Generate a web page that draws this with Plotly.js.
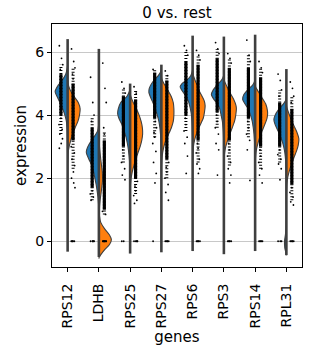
<!DOCTYPE html>
<html><head><meta charset="utf-8">
<script src="https://cdn.plot.ly/plotly-3.0.1.min.js"></script>
<style>html,body{margin:0;padding:0;background:#fff}</style>
</head><body>
<div id="chart" style="width:329px;height:351px"></div>
<script>
// ---- data ----
const genes = ['RPS12','LDHB','RPS25','RPS27','RPS6','RPS3','RPS14','RPL31'];
const yTicks = [0, 2, 4, 6];

// violin half profiles: [expression, relative density] (top to bottom)
const blueShape = [
  [[5.6,0],[5.5,0.03],[5.3,0.15],[5.1,0.45],[4.95,0.75],[4.75,1.0],[4.55,0.8],[4.35,0.55],[4.15,0.35],[4.0,0.22],[3.8,0.1],[3.5,0.04],[3.0,0.015],[2.6,0]],
  [[3.8,0],[3.7,0.02],[3.5,0.1],[3.3,0.4],[3.1,0.75],[2.9,0.98],[2.8,1.0],[2.6,0.8],[2.4,0.55],[2.2,0.42],[2.0,0.32],[1.8,0.22],[1.6,0.14],[1.4,0.07],[1.2,0.03],[1.0,0]],
  [[4.85,0],[4.8,0.02],[4.6,0.25],[4.4,0.75],[4.2,0.95],[4.05,1.0],[3.9,0.9],[3.7,0.66],[3.5,0.48],[3.3,0.33],[3.1,0.22],[2.9,0.14],[2.6,0.06],[2.3,0.02],[2.0,0]],
  [[5.5,0],[5.4,0.03],[5.25,0.25],[5.05,0.7],[4.85,0.97],[4.72,1.0],[4.55,0.85],[4.35,0.63],[4.15,0.45],[4.0,0.33],[3.8,0.2],[3.6,0.12],[3.3,0.05],[3.0,0.02],[2.7,0]],
  [[5.5,0],[5.4,0.02],[5.25,0.15],[5.1,0.5],[5.0,0.85],[4.9,1.0],[4.75,0.8],[4.6,0.53],[4.45,0.35],[4.3,0.24],[4.1,0.13],[3.9,0.07],[3.6,0.03],[3.2,0]],
  [[5.35,0],[5.25,0.02],[5.1,0.2],[4.95,0.55],[4.8,0.85],[4.65,1.0],[4.5,0.8],[4.35,0.5],[4.2,0.33],[4.0,0.22],[3.8,0.12],[3.5,0.05],[3.2,0.02],[2.9,0]],
  [[5.2,0],[5.1,0.02],[4.95,0.2],[4.8,0.6],[4.65,0.9],[4.5,1.0],[4.35,0.8],[4.2,0.55],[4.0,0.37],[3.8,0.23],[3.6,0.15],[3.4,0.09],[3.1,0.04],[2.8,0.02],[2.5,0]],
  [[4.6,0],[4.5,0.02],[4.35,0.25],[4.15,0.67],[4.0,0.9],[3.85,1.0],[3.7,0.9],[3.5,0.67],[3.3,0.45],[3.1,0.28],[2.9,0.16],[2.7,0.09],[2.4,0.04],[2.1,0.02],[1.6,0.01],[0.5,0.01],[0.2,0.08],[0.0,0.15],[-0.2,0.13],[-0.35,0.05],[-0.45,0]]
];
const orangeShape = [
  [[5.1,0],[5.0,0.03],[4.8,0.2],[4.6,0.5],[4.4,0.85],[4.2,1.0],[4.0,0.95],[3.8,0.82],[3.6,0.6],[3.4,0.4],[3.2,0.25],[3.0,0.12],[2.8,0.04],[2.5,0]],
  [[3.4,0],[3.3,0.01],[3.0,0.05],[2.6,0.15],[2.2,0.27],[1.9,0.28],[1.6,0.2],[1.3,0.1],[1.0,0.04],[0.8,0.05],[0.6,0.15],[0.4,0.45],[0.2,0.85],[0.05,1.0],[-0.1,0.85],[-0.25,0.5],[-0.4,0.2],[-0.5,0.03],[-0.55,0]],
  [[4.7,0],[4.6,0.05],[4.4,0.25],[4.2,0.5],[4.0,0.72],[3.8,0.88],[3.6,0.98],[3.4,1.0],[3.2,0.93],[3.0,0.8],[2.8,0.62],[2.6,0.45],[2.4,0.3],[2.2,0.17],[2.0,0.08],[1.8,0.03],[1.5,0]],
  [[5.25,0],[5.15,0.03],[5.0,0.2],[4.8,0.5],[4.6,0.78],[4.4,0.95],[4.2,1.0],[4.0,1.0],[3.8,0.95],[3.6,0.8],[3.4,0.58],[3.2,0.35],[3.0,0.2],[2.8,0.1],[2.6,0.04],[2.3,0]],
  [[5.4,0],[5.3,0.03],[5.1,0.2],[4.9,0.42],[4.75,0.55],[4.6,0.75],[4.45,0.93],[4.3,1.0],[4.1,0.95],[3.9,0.85],[3.7,0.62],[3.5,0.4],[3.3,0.22],[3.1,0.1],[2.9,0.04],[2.6,0]],
  [[5.2,0],[5.1,0.03],[4.9,0.25],[4.7,0.5],[4.5,0.78],[4.3,0.97],[4.2,1.0],[4.0,0.95],[3.8,0.85],[3.6,0.67],[3.4,0.48],[3.2,0.3],[3.0,0.15],[2.8,0.06],[2.6,0.02],[2.3,0]],
  [[5.0,0],[4.9,0.03],[4.75,0.25],[4.55,0.55],[4.35,0.85],[4.15,0.98],[4.05,1.0],[3.9,0.95],[3.7,0.77],[3.5,0.56],[3.3,0.37],[3.1,0.22],[2.9,0.1],[2.7,0.04],[2.4,0]],
  [[4.35,0],[4.25,0.03],[4.05,0.2],[3.85,0.4],[3.65,0.62],[3.45,0.85],[3.25,1.0],[3.05,0.95],[2.85,0.8],[2.65,0.6],[2.45,0.42],[2.25,0.25],[2.05,0.12],[1.85,0.05],[1.6,0.02],[1.3,0]]
];

// extent of each violin (thin tails)
const tailMin = [-0.33, -0.5, -0.39, -0.35, -0.31, -0.41, -0.31, -0.44];
const tailMax = [6.41, 6.1, 5.0, 5.6, 6.52, 6.49, 6.55, 5.46];

// dense parts of the strip (cells)
const blueCoreLo = [4.0, 1.7, 3.0, 3.9, 4.0, 4.1, 3.9, 3.0];
const blueCoreHi = [5.3, 3.6, 4.6, 5.35, 5.7, 5.8, 5.5, 4.4];
const orangeCoreLo = [3.2, 1.0, 2.0, 2.6, 3.2, 3.2, 3.0, 1.8];
const orangeCoreHi = [5.0, 3.2, 4.5, 5.1, 5.6, 5.5, 5.2, 4.2];
// moderately dense parts of the strip
const blueMidLo = [3.4, 1.3, 2.5, 3.3, 3.5, 3.6, 3.3, 2.5];
const blueMidHi = [5.6, 3.9, 4.85, 5.45, 6.0, 6.1, 5.9, 4.8];
const orangeMidLo = [2.3, 0.85, 1.5, 2.0, 2.5, 2.4, 2.3, 1.3];
const orangeMidHi = [5.5, 3.5, 4.8, 5.3, 5.9, 5.8, 5.5, 4.6];

// sparse individual cells
const blueDots = [
  [6.2,5.8,5.6,5.45,3.9,3.7,3.55,3.4,3.25,3.1,2.95],
  [5.2,4.4,4.0,3.8,1.6,1.5,1.4,1.3,0,0,0,0,0],
  [5.05,4.85,4.7,2.9,2.7,2.5,2.3,2.1,1.95,0,0],
  [5.45,3.8,3.6,3.45,3.3,3.1,2.85,2.5,2.15,1.85,0],
  [6.2,6.05,5.9,3.9,3.7,3.5,3.3,3.1,2.7,2.15],
  [6.3,6.1,5.95,4.0,3.8,3.6,3.4,3.1,2.9,2.1],
  [6.38,5.9,5.7,3.8,3.6,3.4,3.2,2.9,1.93],
  [5.3,5.1,4.8,4.6,2.9,2.75,2.6,2.45,2.3,1.95,0,0,0]
];
const orangeDots = [
  [6.1,5.7,5.5,5.3,5.15,3.0,2.8,2.6,2.4,2.2,2.0,1.85,1.7,0,0,0,0,0],
  [5.65,4.85,4.4,3.6,3.4,0.95,0.85,0,0,0,0,0,0,0,0],
  [4.9,4.7,1.9,1.75,1.6,1.45,1.3,1.2,0,0,0,0,0],
  [5.4,5.25,2.5,2.35,2.2,2.0,1.8,1.55,1.3,0,0,0,0,0],
  [6.05,5.9,5.75,3.1,2.95,2.8,2.6,2.45,2.3,2.15,0,0,0,0,0],
  [5.95,5.8,5.65,3.1,2.9,2.7,2.5,2.3,2.1,1.85,0,0,0,0,0],
  [5.7,5.5,5.35,2.9,2.7,2.5,2.3,2.1,1.85,0,0,0,0,0],
  [5.05,4.85,4.6,4.4,1.7,1.55,1.4,1.25,1.15,0,0,0,0,0]
];

// ---- styling ----
const HALF = 0.4;          // max half width of each violin half
const BLUE_OFF = -0.215, ORANGE_OFF = 0.175;  // dodge of strip points
const JITTER = [-0.05, 0.02, 0.06, -0.02, 0.0, -0.06, 0.04, -0.035, 0.05, 0.01];
const EDGE = '#3f3f3f';
const FONT = 'DejaVu Sans';

const traces = [];
function half(i, shape, sign, color) {
  traces.push({
    type: 'scatter', mode: 'lines', fill: 'toself', fillcolor: color,
    x: shape.map(p => i + sign * HALF * p[1]),
    y: shape.map(p => p[0]),
    line: {color: EDGE, width: 1.1, shape: 'spline', smoothing: 0.6},
    hoverinfo: 'skip', showlegend: false
  });
}
genes.forEach((g, i) => {
  half(i, blueShape[i], -1, '#1f77b4');
  half(i, orangeShape[i], 1, '#ff7f0e');
});
// centre / tail lines
const tx = [], ty = [];
genes.forEach((g, i) => { tx.push(i, i, null); ty.push(tailMin[i], tailMax[i], null); });
traces.push({type: 'scatter', mode: 'lines', x: tx, y: ty,
  line: {color: EDGE, width: 2.6}, hoverinfo: 'skip', showlegend: false});

// strip bands
function band(lo, hi, off, width, dash) {
  const x = [], y = [];
  genes.forEach((g, i) => { x.push(i + off, i + off, null); y.push(lo[i], hi[i], null); });
  traces.push({type: 'scatter', mode: 'lines', x: x, y: y,
    line: {color: '#000', width: width, dash: dash}, hoverinfo: 'skip', showlegend: false});
}
band(blueMidLo, blueMidHi, BLUE_OFF, 3, '1px,2px');
band(orangeMidLo, orangeMidHi, ORANGE_OFF, 3, '1px,2px');
band(blueCoreLo, blueCoreHi, BLUE_OFF, 3.2, 'solid');
band(orangeCoreLo, orangeCoreHi, ORANGE_OFF, 3.2, 'solid');

// sparse cells with a small fixed jitter
function dots(list, off) {
  const x = [], y = [];
  list.forEach((vals, i) => vals.forEach((v, k) => {
    x.push(i + off + JITTER[k % JITTER.length]); y.push(v);
  }));
  traces.push({type: 'scatter', mode: 'markers', x: x, y: y,
    marker: {color: '#000', size: 1.8, line: {width: 0}},
    hoverinfo: 'skip', showlegend: false});
}
dots(blueDots, BLUE_OFF);
dots(orangeDots, ORANGE_OFF);

const layout = {
  width: 329, height: 351,
  margin: {l: 52, r: 27, t: 24, b: 84},
  paper_bgcolor: '#fff', plot_bgcolor: '#fff',
  showlegend: false, hovermode: false,
  font: {family: FONT, color: '#000', size: 14},
  title: {text: '0 vs. rest', font: {family: FONT, size: 15, color: '#000'},
    x: 0.538, xanchor: 'center', y: 1 - 12.5/351, yref: 'container', yanchor: 'middle'},
  xaxis: {
    range: [-0.5, 7.5], tickvals: genes.map((g, i) => i), ticktext: genes,
    tickangle: -90, ticks: 'outside', ticklen: 4, tickwidth: 1, tickcolor: '#000',
    ticklabelstandoff: 6,
    showgrid: false, zeroline: false, showline: true, mirror: true,
    linecolor: '#000', linewidth: 1, tickfont: {family: FONT, size: 14},
    title: {text: 'genes', font: {family: FONT, size: 15}, standoff: 4}
  },
  yaxis: {
    range: [-0.816, 6.889], tickvals: yTicks, ticks: 'outside', ticklen: 4,
    tickwidth: 1, tickcolor: '#000', showgrid: true, gridcolor: '#c8c8c8',
    gridwidth: 1, zeroline: false, showline: true, mirror: true,
    linecolor: '#000', linewidth: 1, tickfont: {family: FONT, size: 14},
    title: {text: 'expression', font: {family: FONT, size: 15}, standoff: 5}
  }
};
Plotly.newPlot('chart', traces, layout, {staticPlot: true, displayModeBar: false});
</script>
</body></html>
